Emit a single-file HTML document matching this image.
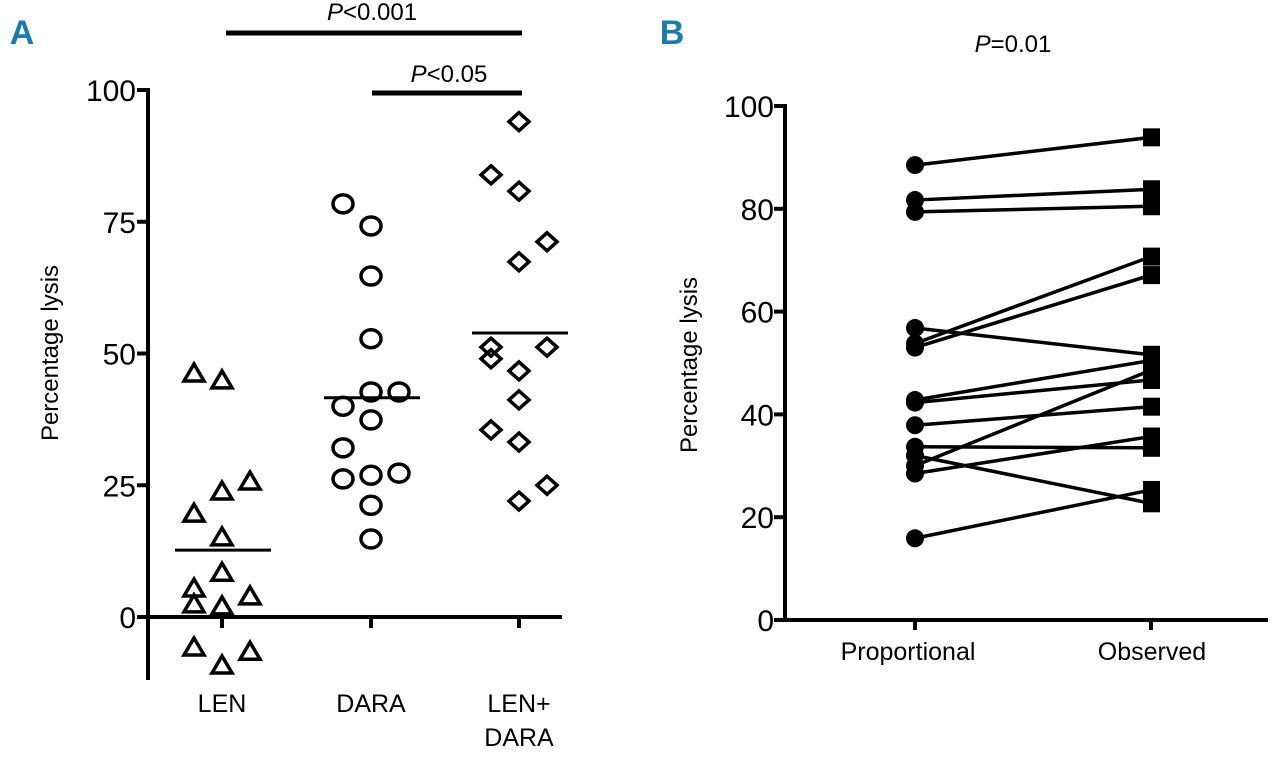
<!DOCTYPE html>
<html><head><meta charset="utf-8"><style>
html,body{margin:0;padding:0;background:#fff;}
svg{display:block;font-family:"Liberation Sans Narrow","Liberation Sans",sans-serif;}
</style></head><body>
<svg id="chart" width="1280" height="758" viewBox="0 0 1280 758"></svg>
<script>
// Panel A data
const catsA = ["LEN","DARA","LEN+DARA"];
const lenVals = [46.3,45.0,25.8,23.9,19.7,15.2,8.5,5.5,4.0,2.5,2.1,-5.7,-6.5,-9.1];
const lenOff = [-1,0,1,0,-1,0,0,-1,1,-1,0,-1,1,0];
const daraVals = [78.4,74.2,64.7,52.8,42.7,42.7,40.0,37.4,32.1,26.2,26.9,27.3,21.2,14.8];
const daraOff = [-1,0,0,0,0,1,-1,0,-1,-1,0,1,0,0];
const comboVals = [94.0,83.9,80.8,71.2,67.4,51.2,51.2,49.0,46.7,41.2,35.5,33.2,25.0,22.0];
const comboOff = [0,-1,0,1,0,-1,1,-1,0,0,-1,0,1,0];
const meansA = [12.7,41.6,53.9];
const ticksA = [0,25,50,75,100];
// Panel B data
const propVals = [88.5,81.7,79.4,56.8,53.8,53.0,42.8,42.3,37.9,33.7,30.0,32.0,28.5,15.9];
const obsVals  = [93.9,83.8,80.5,51.6,70.7,67.1,50.5,46.7,41.5,33.5,48.6,22.7,35.7,25.3];
const ticksB = [0,20,40,60,80,100];

const NS="http://www.w3.org/2000/svg";
const svg=document.getElementById('chart');
function mk(tag,attrs,parent){const e=document.createElementNS(NS,tag);for(const k in attrs)e.setAttribute(k,attrs[k]);(parent||svg).appendChild(e);return e;}
function txt(s,x,y,size,anchor,parent,extra){const t=mk('text',Object.assign({x:x,y:y,'font-size':size,'text-anchor':anchor||'middle',fill:'#000'},extra||{}),parent);t.textContent=s;return t;}

const yA=v=>617-v*5.27;
const xA=i=>[222,371,519][i];
const jit=28;
const yB=v=>620-v*5.14;
const xB=i=>[915,1151][i];

let t=txt('A',22,44,34,'middle',svg,{fill:'#1a7bb0','font-weight':'bold'});

t=txt('B',672,44,34,'middle',svg,{fill:'#1a7bb0','font-weight':'bold'});


// ---- Panel A ----
const gA=mk('g',{});


let e=mk('line',{x1:148,y1:88,x2:148,y2:680,stroke:'#000','stroke-width':4},gA);

e=mk('line',{x1:146,y1:yA(0),x2:562,y2:yA(0),stroke:'#000','stroke-width':4},gA);

ticksA.forEach(v=>{
  const l=mk('line',{x1:137,y1:yA(v),x2:148,y2:yA(v),stroke:'#000','stroke-width':4},gA);
  
  const tt=txt(String(v),136,yA(v)+11,30,'end',gA);
  
});
[0,1,2].forEach(i=>{
  const l=mk('line',{x1:xA(i),y1:yA(0),x2:xA(i),y2:yA(0)+11,stroke:'#000','stroke-width':4},gA);
  
});
t=txt('LEN',222,712,25,'middle',gA);
t=txt('DARA',371,712,25,'middle',gA);
t=txt('LEN+',519,712,25,'middle',gA);
t=txt('DARA',519,746,25,'middle',gA);
t=txt('Percentage lysis',58,353,24,'middle',gA,{transform:'rotate(-90 58 353)'});


lenVals.forEach((v,k)=>{
  const cx=xA(0)+lenOff[k]*jit, cy=yA(v);
  const p=mk('polygon',{points:`${cx},${cy-9} ${cx-10},${cy+8} ${cx+10},${cy+8}`,fill:'none',stroke:'#000','stroke-width':3.5},gA);
  
});
daraVals.forEach((v,k)=>{
  const c=mk('ellipse',{cx:xA(1)+daraOff[k]*jit,cy:yA(v),rx:10,ry:9,fill:'none',stroke:'#000','stroke-width':3.5},gA);
  
});
comboVals.forEach((v,k)=>{
  const cx=xA(2)+comboOff[k]*jit, cy=yA(v);
  const p=mk('polygon',{points:`${cx},${cy-9} ${cx+10},${cy} ${cx},${cy+9} ${cx-10},${cy}`,fill:'none',stroke:'#000','stroke-width':3.5},gA);
  
});
meansA.forEach((v,i)=>{
  const l=mk('line',{x1:xA(i)-47,y1:yA(v),x2:xA(i)+49,y2:yA(v),stroke:'#000','stroke-width':3},gA);
  
});
e=mk('line',{x1:226,y1:33,x2:522,y2:33,stroke:'#000','stroke-width':5},gA);

t=txt('',372,20,24,'middle',gA);t.innerHTML='<tspan font-style="italic">P</tspan>&lt;0.001';

e=mk('line',{x1:372,y1:93,x2:522,y2:93,stroke:'#000','stroke-width':5},gA);

t=txt('',449,82,24,'middle',gA);t.innerHTML='<tspan font-style="italic">P</tspan>&lt;0.05';


// ---- Panel B ----
const gB=mk('g',{});


e=mk('line',{x1:785,y1:104,x2:785,y2:622,stroke:'#000','stroke-width':4},gB);

e=mk('line',{x1:783,y1:yB(0),x2:1268,y2:yB(0),stroke:'#000','stroke-width':4},gB);

ticksB.forEach(v=>{
  const l=mk('line',{x1:774,y1:yB(v),x2:785,y2:yB(v),stroke:'#000','stroke-width':4},gB);
  
  const tt=txt(String(v),774,yB(v)+11,30,'end',gB);
  
});
[0,1].forEach(i=>{
  const l=mk('line',{x1:xB(i),y1:yB(0),x2:xB(i),y2:yB(0)+10,stroke:'#000','stroke-width':4},gB);
  
});
t=txt('Proportional',908,660,25,'middle',gB);
t=txt('Observed',1152,660,25,'middle',gB);
t=txt('Percentage lysis',697,365,24,'middle',gB,{transform:'rotate(-90 697 365)'});

t=txt('',1013,52,24,'middle',gB);t.innerHTML='<tspan font-style="italic">P</tspan>=0.01';


propVals.forEach((v,k)=>{
  const l=mk('line',{x1:xB(0),y1:yB(v),x2:xB(1),y2:yB(obsVals[k]),stroke:'#000','stroke-width':3.5},gB);
  
});
propVals.forEach(v=>{
  const c=mk('ellipse',{cx:xB(0),cy:yB(v),rx:9,ry:9,fill:'#000'},gB);
  
});
obsVals.forEach(v=>{
  const r=mk('rect',{x:xB(1)-8,y:yB(v)-9,width:17,height:18,fill:'#000'},gB);
  
});
</script>
</body></html>
